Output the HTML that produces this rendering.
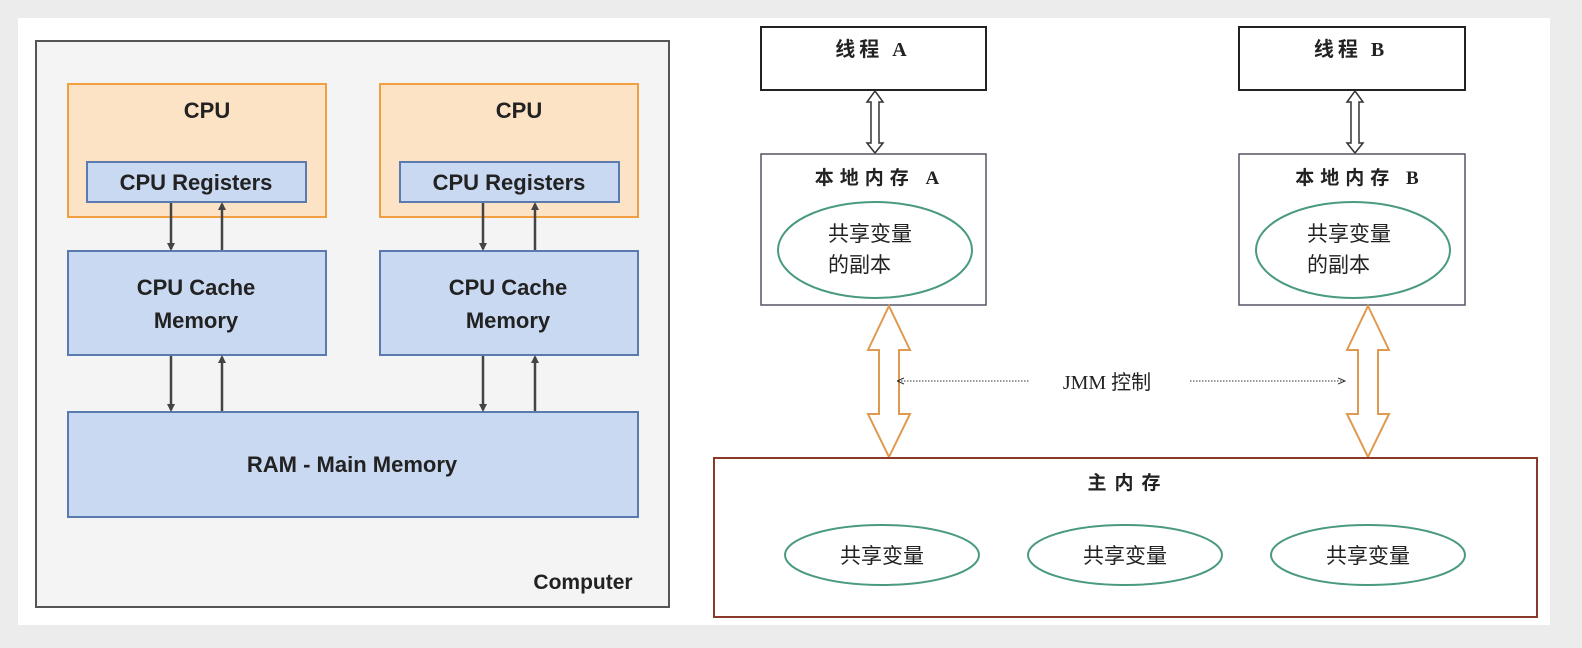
<!DOCTYPE html>
<html><head><meta charset="utf-8"><style>
html,body{margin:0;padding:0;background:#ececec;}
body{width:1582px;height:648px;position:relative;overflow:hidden;font-family:"Liberation Sans","Noto Sans CJK SC",sans-serif;}
</style></head><body>
<svg width="1582" height="648" xmlns="http://www.w3.org/2000/svg" style="position:absolute;left:0;top:0">
<defs>
<marker id="ah" markerWidth="8" markerHeight="8" refX="6" refY="4" orient="auto" markerUnits="userSpaceOnUse"><path d="M0,0 L8,4 L0,8 z" fill="#444"/></marker>
<marker id="da" markerWidth="8" markerHeight="8" refX="7" refY="4" orient="auto" markerUnits="userSpaceOnUse"><path d="M0,1 L7,4 L0,7" fill="none" stroke="#333"/></marker>
<marker id="ds" markerWidth="8" markerHeight="8" refX="1" refY="4" orient="auto" markerUnits="userSpaceOnUse"><path d="M7,1 L0,4 L7,7" fill="none" stroke="#333"/></marker>
</defs>
<rect x="18" y="18" width="1532" height="607" fill="#fff"/>
<rect x="36" y="41" width="633" height="566" fill="#f4f4f4" stroke="#555" stroke-width="2"/>
<g font-weight="bold" fill="#222" text-anchor="middle">
<rect x="68" y="84" width="258" height="133" fill="#fde3c6" stroke="#f0a040" stroke-width="2"/>
<rect x="380" y="84" width="258" height="133" fill="#fde3c6" stroke="#f0a040" stroke-width="2"/>
<text x="207" y="118" font-size="22">CPU</text>
<text x="519" y="118" font-size="22">CPU</text>
<rect x="87" y="162" width="219" height="40" fill="#c9d9f2" stroke="#5a7ab0" stroke-width="2"/>
<rect x="400" y="162" width="219" height="40" fill="#c9d9f2" stroke="#5a7ab0" stroke-width="2"/>
<text x="196" y="190" font-size="22">CPU Registers</text>
<text x="509" y="190" font-size="22">CPU Registers</text>
<rect x="68" y="251" width="258" height="104" fill="#c9d9f2" stroke="#5a7ab0" stroke-width="2"/>
<rect x="380" y="251" width="258" height="104" fill="#c9d9f2" stroke="#5a7ab0" stroke-width="2"/>
<text x="196" y="295" font-size="22">CPU Cache</text>
<text x="196" y="328" font-size="22">Memory</text>
<text x="508" y="295" font-size="22">CPU Cache</text>
<text x="508" y="328" font-size="22">Memory</text>
<rect x="68" y="412" width="570" height="105" fill="#c9d9f2" stroke="#5a7ab0" stroke-width="2"/>
<text x="352" y="472" font-size="22">RAM - Main Memory</text>
<text x="583" y="589" font-size="21">Computer</text>
</g>
<g stroke="#444" stroke-width="2.5">
<line x1="171" y1="203" x2="171" y2="249" marker-end="url(#ah)"/>
<line x1="222" y1="250" x2="222" y2="204" marker-end="url(#ah)"/>
<line x1="483" y1="203" x2="483" y2="249" marker-end="url(#ah)"/>
<line x1="535" y1="250" x2="535" y2="204" marker-end="url(#ah)"/>
<line x1="171" y1="356" x2="171" y2="410" marker-end="url(#ah)"/>
<line x1="222" y1="411" x2="222" y2="357" marker-end="url(#ah)"/>
<line x1="483" y1="356" x2="483" y2="410" marker-end="url(#ah)"/>
<line x1="535" y1="411" x2="535" y2="357" marker-end="url(#ah)"/>
</g>
<g font-family="'Liberation Serif','Noto Sans CJK SC',sans-serif" fill="#222">
<rect x="761" y="27" width="225" height="63" fill="#fff" stroke="#222" stroke-width="2"/>
<rect x="1239" y="27" width="226" height="63" fill="#fff" stroke="#222" stroke-width="2"/>
<text x="873" y="56" font-size="20" text-anchor="middle" letter-spacing="4" font-weight="bold">线程 A</text>
<text x="1351" y="56" font-size="20" text-anchor="middle" letter-spacing="4" font-weight="bold">线程 B</text>
<path d="M875,91 L883,102 L879,102 L879,143 L883,143 L875,153 L867,143 L871,143 L871,102 L867,102 Z" fill="#fff" stroke="#333" stroke-width="1.5"/>
<path d="M1355,91 L1363,102 L1359,102 L1359,143 L1363,143 L1355,153 L1347,143 L1351,143 L1351,102 L1347,102 Z" fill="#fff" stroke="#333" stroke-width="1.5"/>
<rect x="761" y="154" width="225" height="151" fill="#fff" stroke="#556" stroke-width="1.5"/>
<rect x="1239" y="154" width="226" height="151" fill="#fff" stroke="#556" stroke-width="1.5"/>
<text x="880" y="184" font-size="19" text-anchor="middle" letter-spacing="6" font-weight="bold">本地内存 A</text>
<text x="1360" y="184" font-size="19" text-anchor="middle" letter-spacing="6" font-weight="bold">本地内存 B</text>
<ellipse cx="875" cy="250" rx="97" ry="48" fill="#fff" stroke="#4a9a80" stroke-width="2"/>
<ellipse cx="1353" cy="250" rx="97" ry="48" fill="#fff" stroke="#4a9a80" stroke-width="2"/>
<text x="828" y="241" font-size="21">共享变量</text>
<text x="828" y="272" font-size="21">的副本</text>
<text x="1307" y="241" font-size="21">共享变量</text>
<text x="1307" y="272" font-size="21">的副本</text>
<path d="M889,306 L910,350 L899,350 L899,414 L910,414 L889,457 L868,414 L879,414 L879,350 L868,350 Z" fill="#fff" stroke="#e09a50" stroke-width="2"/>
<path d="M1368,306 L1389,350 L1378,350 L1378,414 L1389,414 L1368,457 L1347,414 L1358,414 L1358,350 L1347,350 Z" fill="#fff" stroke="#e09a50" stroke-width="2"/>
<line x1="898" y1="381" x2="1030" y2="381" stroke="#333" stroke-dasharray="1.5,1.5" marker-start="url(#ds)"/>
<line x1="1190" y1="381" x2="1345" y2="381" stroke="#333" stroke-dasharray="1.5,1.5" marker-end="url(#da)"/>
<text x="1107" y="389" font-size="20" text-anchor="middle">JMM 控制</text>
<rect x="714" y="458" width="823" height="159" fill="#fff" stroke="#8b3a2a" stroke-width="2"/>
<text x="1128" y="489" font-size="19" text-anchor="middle" letter-spacing="8" font-weight="bold">主内存</text>
<ellipse cx="882" cy="555" rx="97" ry="30" fill="#fff" stroke="#4a9a80" stroke-width="2"/>
<ellipse cx="1125" cy="555" rx="97" ry="30" fill="#fff" stroke="#4a9a80" stroke-width="2"/>
<ellipse cx="1368" cy="555" rx="97" ry="30" fill="#fff" stroke="#4a9a80" stroke-width="2"/>
<text x="882" y="563" font-size="21" text-anchor="middle">共享变量</text>
<text x="1125" y="563" font-size="21" text-anchor="middle">共享变量</text>
<text x="1368" y="563" font-size="21" text-anchor="middle">共享变量</text>
</g>
</svg>
</body></html>
